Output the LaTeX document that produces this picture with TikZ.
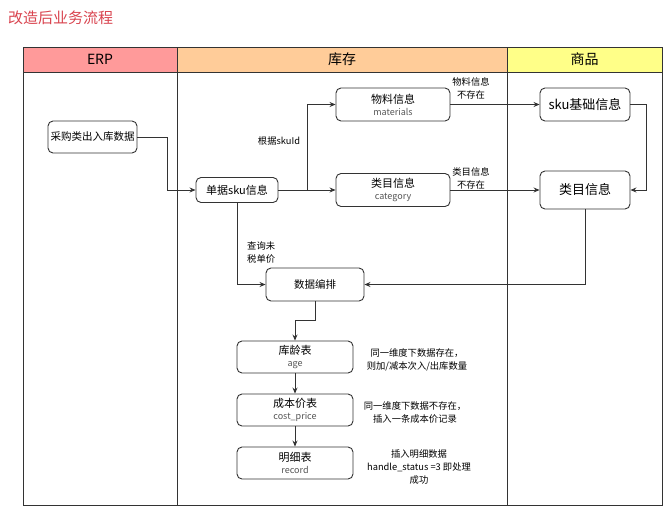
\documentclass[tikz,border=0pt]{standalone}
\usepackage{fontspec}
\setmainfont{Noto Sans CJK SC}
\usetikzlibrary{arrows.meta}
\newcommand{\fsz}[1]{\fontsize{#1}{\the\dimexpr #1pt*6/5\relax}\selectfont}
\definecolor{erpfill}{HTML}{FF9A9A}
\definecolor{kcfill}{HTML}{FFCC99}
\definecolor{spfill}{HTML}{FFFF88}
\definecolor{titlered}{HTML}{D9434E}
\definecolor{linec}{HTML}{333333}
\definecolor{subc}{HTML}{555555}
\begin{document}
\begin{tikzpicture}[x=1pt,y=-1pt,
  box/.style={draw=linec, rounded corners=5pt, fill=white, line width=0.9pt, inner sep=0pt, align=center},
  conn/.style={draw=linec, line width=0.8pt, -{Stealth[length=6pt,width=5pt]}},
  note/.style={align=center, inner sep=0pt, font=\fontsize{9.3}{13}\selectfont},
  hdr/.style={inner sep=0pt, font=\fsz{14}},
  sub/.style={text=subc}]
\useasboundingbox (0,0) rectangle (670,512);
\fill[white] (0,0) rectangle (670,512);
% title
\node[anchor=west, inner sep=0pt, text=titlered, font=\fsz{15}] (title) at (8,18) {改造后业务流程};
% swimlane header
\fill[erpfill] (23,47) rectangle (177,72);
\fill[kcfill] (177,47) rectangle (507,72);
\fill[spfill] (507,47) rectangle (662,72);
\draw[linec, line width=1pt] (23,47) rectangle (662,505);
\draw[linec, line width=1pt] (23,72) -- (662,72);
\draw[linec, line width=0.9pt] (177,47) -- (177,505);
\draw[linec, line width=0.9pt] (507,47) -- (507,505);
\node[hdr] (hERP) at (100,59.5) {ERP};
\node[hdr] (hKC) at (342,59.5) {库存};
\node[hdr] (hSP) at (584.5,59.5) {商品};
% nodes
\node[box, minimum width=89pt, minimum height=32pt, font=\fsz{10.5}] (cg) at (92.5,137) {采购类出入库数据};
\node[box, minimum width=82pt, minimum height=25pt, font=\fsz{11}] (dj) at (237,190) {单据sku信息};
\node[box, minimum width=114pt, minimum height=33pt, font=\fsz{11}] (wl) at (393,104.5) {物料信息\\[-1pt]{\fsz{9}\color{subc}materials}};
\node[box, minimum width=114pt, minimum height=33pt, font=\fsz{11}] (lm) at (393,190) {类目信息\\[-1pt]{\fsz{9}\color{subc}category}};
\node[box, minimum width=90pt, minimum height=33pt, font=\fsz{13}] (sku) at (585,104.5) {sku基础信息};
\node[box, minimum width=90pt, minimum height=38pt, font=\fsz{13}] (lm2) at (585,190) {类目信息};
\node[box, minimum width=98pt, minimum height=33pt, font=\fsz{10.5}] (sj) at (315,284.5) {数据编排};
\node[box, minimum width=116pt, minimum height=32pt, font=\fsz{11}] (kl) at (295,357) {库龄表\\[-1pt]{\fsz{9}\color{subc}age}};
\node[box, minimum width=116pt, minimum height=32pt, font=\fsz{11}] (cb) at (295,410) {成本价表\\[-1pt]{\fsz{9}\color{subc}cost\_price}};
\node[box, minimum width=116pt, minimum height=32pt, font=\fsz{11}] (mx) at (295,463) {明细表\\[-1pt]{\fsz{9}\color{subc}record}};
% connectors
\coordinate (jn) at (307,190);
\draw[conn] (cg.east) -- ++(30,0) |- (dj.west);
\draw[conn] (dj.east) -- (lm.west);
\draw[conn] (jn) |- (wl.west);
\draw[conn] (wl.east) -- (sku.west);
\draw[conn] (lm.east) -- (lm2.west);
\draw[conn] (sku.east) -- ++(16,0) |- (lm2.east);
\draw[conn] (lm2.south) |- (sj.east);
\draw[conn] (dj.south) |- (sj.west);
\draw[conn] (sj.south) -- ++(0,19) -| (kl.north);
\draw[conn] (kl.south) -- (cb.north);
\draw[conn] (cb.south) -- (mx.north);
% labels
\node[note] (l1) at (279,141) {根据skuId};
\node[note] (l2) at (471,88) {物料信息\\不存在};
\node[note] (l3) at (471,178) {类目信息\\不存在};
\node[note, align=left, anchor=west] (l4) at (247,252) {查询未\\税单价};
\node[note] (n1) at (417,359.5) {同一维度下数据存在，\\则加/减本次入/出库数量};
\node[note] (n2) at (415,412.5) {同一维度下数据不存在，\\插入一条成本价记录};
\node[note] (n3) at (419,467) {插入明细数据\\handle\_status =3 即处理\\成功};
\end{tikzpicture}
\end{document}
